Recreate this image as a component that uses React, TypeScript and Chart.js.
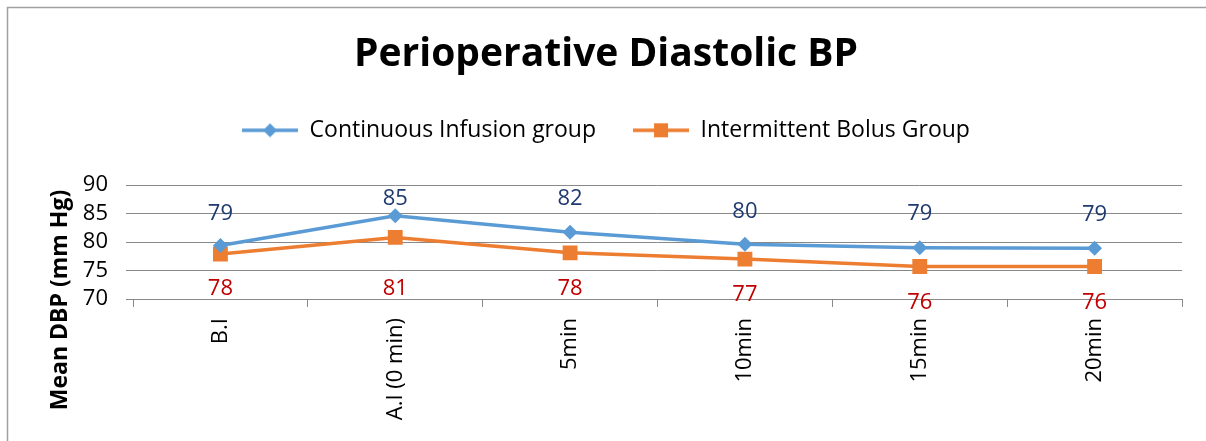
import { useEffect, useRef } from 'react';
import { Chart, registerables } from 'chart.js';

Chart.register(...registerables);

const categories = ['B.I', 'A.I (0 min)', '5min', '10min', '15min', '20min'];
const continuousInfusion = [79.4, 84.6, 81.7, 79.6, 79.0, 78.9];
const intermittentBolus = [77.9, 80.8, 78.1, 77.0, 75.7, 75.7];
const yTickValues = [70, 75, 80, 85, 90];
const seriesNames = ['Continuous Infusion group', 'Intermittent Bolus Group'];

const FONT = 'Open Sans';
const BLUE = '#5B9BD5';
const ORANGE = '#ED7D31';
const GRID = '#898989';
// label offsets (px) relative to the point, per category
const blueLabelOffsets = [-32, -17, -34, -33, -34, -34];
const orangeLabelOffsets = [35, 51, 36, 36, 36, 36];

function makeLegendImage(color: string, style: 'diamond' | 'square') {
  const c = document.createElement('canvas');
  c.width = 56;
  c.height = 18;
  const ctx = c.getContext('2d')!;
  ctx.strokeStyle = color;
  ctx.lineWidth = 3.5;
  ctx.beginPath();
  ctx.moveTo(0, 9);
  ctx.lineTo(56, 9);
  ctx.stroke();
  ctx.fillStyle = color;
  ctx.beginPath();
  if (style === 'diamond') {
    ctx.moveTo(28, 2);
    ctx.lineTo(35, 9);
    ctx.lineTo(28, 16);
    ctx.lineTo(21, 9);
    ctx.closePath();
  } else {
    ctx.rect(21, 2, 14, 14);
  }
  ctx.fill();
  return c;
}

const framePlugin = {
  id: 'frame',
  beforeDraw(chart: any) {
    const ctx = chart.ctx;
    ctx.save();
    ctx.fillStyle = '#ffffff';
    ctx.fillRect(0, 0, chart.width, chart.height);
    ctx.strokeStyle = '#A0A0A0';
    ctx.lineWidth = 1.5;
    ctx.beginPath();
    ctx.moveTo(7.5, chart.height + 5);
    ctx.lineTo(7.5, 7.5);
    ctx.lineTo(chart.width + 5, 7.5);
    ctx.stroke();
    ctx.restore();
  },
};

const yTitlePlugin = {
  id: 'yTitle',
  afterDraw(chart: any) {
    const ctx = chart.ctx;
    ctx.save();
    ctx.translate(60, 300);
    ctx.rotate(-Math.PI / 2);
    ctx.textAlign = 'center';
    ctx.textBaseline = 'middle';
    ctx.fillStyle = '#000';
    ctx.font = `bold 23px "${FONT}"`;
    ctx.fillText('Mean DBP (mm Hg)', 0, 0);
    ctx.restore();
  },
};

const dataLabelPlugin = {
  id: 'dataLabels',
  afterDatasetsDraw(chart: any) {
    const ctx = chart.ctx;
    ctx.save();
    ctx.font = `22px "${FONT}"`;
    ctx.textAlign = 'center';
    ctx.textBaseline = 'middle';
    chart.data.datasets.forEach((ds: any, di: number) => {
      const meta = chart.getDatasetMeta(di);
      const offsets = di === 0 ? blueLabelOffsets : orangeLabelOffsets;
      ctx.fillStyle = di === 0 ? '#1F3A6E' : '#C00000';
      meta.data.forEach((pt: any, i: number) => {
        const v = ds.data[i] as number;
        ctx.fillText(String(Math.round(v)), pt.x, pt.y + offsets[i]);
      });
    });
    ctx.restore();
  },
};

export default function App() {
  const ref = useRef<HTMLCanvasElement | null>(null);
  useEffect(() => {
    document.body.style.margin = '0';
    const canvas = ref.current!;
    const legendImgs = [makeLegendImage(BLUE, 'diamond'), makeLegendImage(ORANGE, 'square')];
    const chart = new Chart(canvas, {
      type: 'line',
      data: {
        labels: categories,
        datasets: [
          {
            label: seriesNames[0],
            data: continuousInfusion,
            borderColor: BLUE,
            backgroundColor: BLUE,
            borderWidth: 3.5,
            pointStyle: 'rectRot',
            pointRadius: 7.5,
            pointBorderWidth: 0,
            tension: 0,
          },
          {
            label: seriesNames[1],
            data: intermittentBolus,
            borderColor: ORANGE,
            backgroundColor: ORANGE,
            borderWidth: 3.5,
            pointStyle: 'rect',
            pointRadius: 10.5,
            pointBorderWidth: 0,
            tension: 0,
          },
        ],
      },
      options: {
        responsive: false,
        animation: false,
        events: [],
        layout: { padding: { left: 30, right: 24, top: 0, bottom: 0 } },
        plugins: {
          title: {
            display: true,
            text: 'Perioperative Diastolic BP',
            color: '#000',
            font: { family: FONT, size: 39, weight: 'bold' },
            padding: { top: 31, bottom: 4 },
          },
          subtitle: {
            display: true,
            text: '',
            weight: 500,
            font: { size: 1 },
            padding: { top: 16, bottom: 16 },
          } as any,
          legend: {
            display: true,
            labels: {
              usePointStyle: true,
              pointStyleWidth: 56,
              boxHeight: 18,
              color: '#000',
              font: { family: FONT, size: 23 },
              padding: 37,
              generateLabels: (ch: any) =>
                ch.data.datasets.map((ds: any, i: number) => ({
                  text: ds.label,
                  pointStyle: legendImgs[i],
                  fillStyle: ds.borderColor,
                  strokeStyle: ds.borderColor,
                  lineWidth: 0,
                  hidden: false,
                  datasetIndex: i,
                  fontColor: '#000',
                })),
            },
          },
          tooltip: { enabled: false },
        },
        scales: {
          x: {
            type: 'category',
            offset: true,
            grid: {
              display: true,
              drawOnChartArea: false,
              drawTicks: true,
              tickLength: 8,
              color: GRID,
              offset: true,
            },
            border: { display: true, color: GRID, width: 1 },
            ticks: {
              autoSkip: false,
              minRotation: 90,
              maxRotation: 90,
              color: '#000',
              font: { family: FONT, size: 22 },
              padding: 11,
            },
            afterFit: (s: any) => {
              s.height = 142;
            },
          },
          y: {
            min: 70,
            max: 90,
            afterBuildTicks: (s: any) => {
              s.ticks = yTickValues.map((v) => ({ value: v }));
            },
            grid: { color: GRID, tickLength: 7, drawTicks: true },
            border: { display: false },
            ticks: {
              autoSkip: false,
              color: '#000',
              font: { family: FONT, size: 22 },
              padding: 18,
            },
            afterFit: (s: any) => {
              s.width = 103;
            },
          },
        },
      },
      plugins: [framePlugin, dataLabelPlugin, yTitlePlugin],
    });
    return () => chart.destroy();
  }, []);
  return <canvas ref={ref} width={1206} height={441} style={{ display: 'block' }} />;
}
